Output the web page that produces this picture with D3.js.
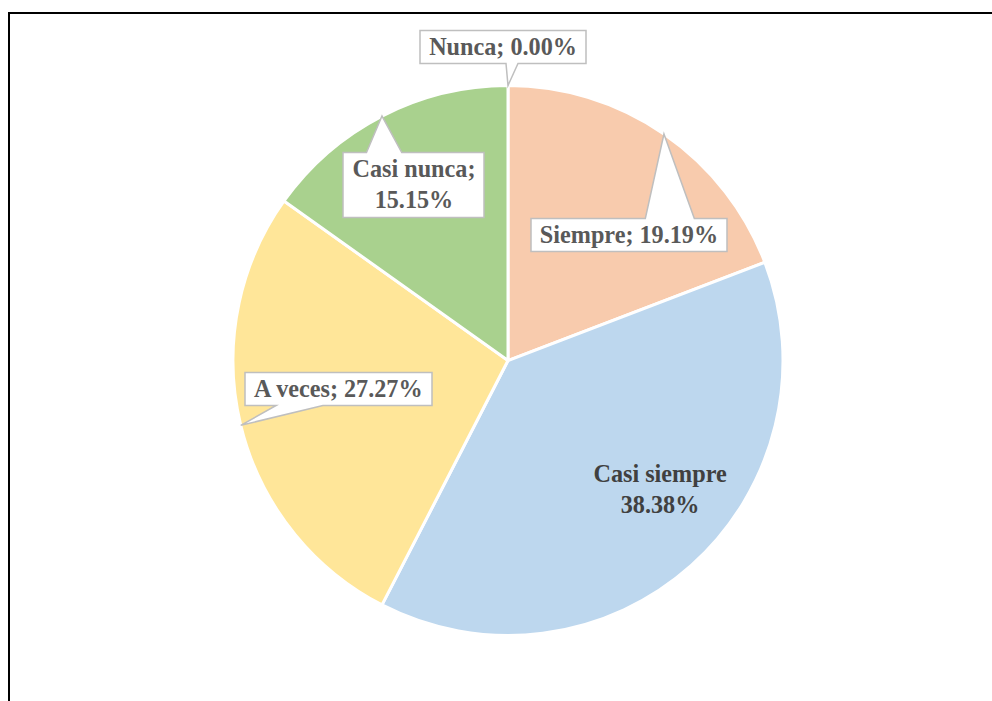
<!DOCTYPE html>
<html><head><meta charset="utf-8">
<script src="https://cdn.jsdelivr.net/npm/d3@7"></script>
<style>html,body{margin:0;padding:0;background:#fff;}svg{display:block;}</style>
</head><body>
<svg id="chart" width="992" height="701"></svg>
<script>
const categories = ["Siempre", "Casi siempre", "A veces", "Casi nunca", "Nunca"];
const values = [19.19, 38.38, 27.27, 15.15, 0.00];
const labelTexts = [["Siempre; 19.19%"], ["Casi siempre", "38.38%"], ["A veces; 27.27%"], ["Casi nunca;", "15.15%"], ["Nunca; 0.00%"]];
const colors = ["#F8CBAD", "#BDD7EE", "#FFE699", "#A9D18E", "#D9D9D9"];

// label layout (offsets from pie centre, in units of radius); callout flag
const labelLayout = [
  {dx: 0.44, dy: -0.455, callout: true},
  {dx: 0.553, dy: 0.47, callout: false},
  {dx: -0.617, dy: 0.102, callout: true},
  {dx: -0.342, dy: -0.64, callout: true},
  {dx: -0.018, dy: -1.14, callout: true}
];

const svg = d3.select("#chart");
svg.append("rect").attr("x", 9).attr("y", 13).attr("width", 1100).attr("height", 800)
  .attr("fill", "none").attr("stroke", "#000").attr("stroke-width", 2);

const cx = 508, cy = 360.5, R = 275;
const g = svg.append("g").attr("transform", `translate(${cx},${cy})`);
const data = categories.map((c, i) => ({cat: c, value: values[i], i}));
const pie = d3.pie().value(d => d.value).sort(null).startAngle(0).endAngle(2 * Math.PI);
const arcs = pie(data);
const arc = d3.arc().innerRadius(0).outerRadius(R);

g.selectAll("path.slice").data(arcs.filter(d => d.data.value > 0)).join("path")
  .attr("class", "slice")
  .attr("d", arc)
  .attr("fill", d => colors[d.data.i])
  .attr("stroke", "#fff").attr("stroke-width", 3).attr("stroke-linejoin", "round");

const fontSize = 24.2, lineH = 31, padX = 9;
const lg = g.append("g");
arcs.forEach(a => {
  const i = a.data.i;
  const L = labelLayout[i];
  const lx = L.dx * R, ly = L.dy * R;
  const lines = labelTexts[i];
  const grp = lg.append("g");
  const path = grp.append("path");
  const t = grp.append("text")
    .attr("font-family", "'Liberation Serif','Times New Roman',serif")
    .attr("font-weight", "bold").attr("font-size", fontSize)
    .attr("fill", i === 1 ? "#404040" : "#595959")
    .attr("text-anchor", "middle");
  const n = lines.length;
  lines.forEach((s, k) => {
    t.append("tspan").attr("x", lx).attr("y", ly + (k - (n - 1) / 2) * lineH + fontSize * 0.33).text(s);
  });
  if (!L.callout) { path.remove(); return; }
  const bb = t.node().getBBox();
  const x0 = Math.round(lx - bb.width / 2 - padX), x1 = Math.round(lx + bb.width / 2 + padX);
  const y0 = Math.round(ly - (n === 1 ? 16.5 : 32.5)), y1 = Math.round(ly + (n === 1 ? 16.5 : 32.5));
  const mid = (a.startAngle + a.endAngle) / 2;
  const px = R * Math.sin(mid), py = -R * Math.cos(mid);
  const w = x1 - x0;
  let b0, b1;
  const rel = (px - x0) / w;
  if (rel < 0.35) { b0 = x0 + w / 6; b1 = x0 + w * 5 / 12; }
  else if (rel > 0.65) { b0 = x0 + w * 7 / 12; b1 = x0 + w * 5 / 6; }
  else { b0 = px - 2; b1 = px + 10; }
  let d;
  if (py < y0) {
    d = `M${x0},${y0}L${b0},${y0}L${px},${py}L${b1},${y0}L${x1},${y0}L${x1},${y1}L${x0},${y1}Z`;
  } else {
    d = `M${x0},${y0}L${x1},${y0}L${x1},${y1}L${b1},${y1}L${px},${py}L${b0},${y1}L${x0},${y1}Z`;
  }
  path.attr("d", d).attr("fill", "#fff").attr("stroke", "#BFBFBF").attr("stroke-width", 1.5);
});
</script>
</body></html>
